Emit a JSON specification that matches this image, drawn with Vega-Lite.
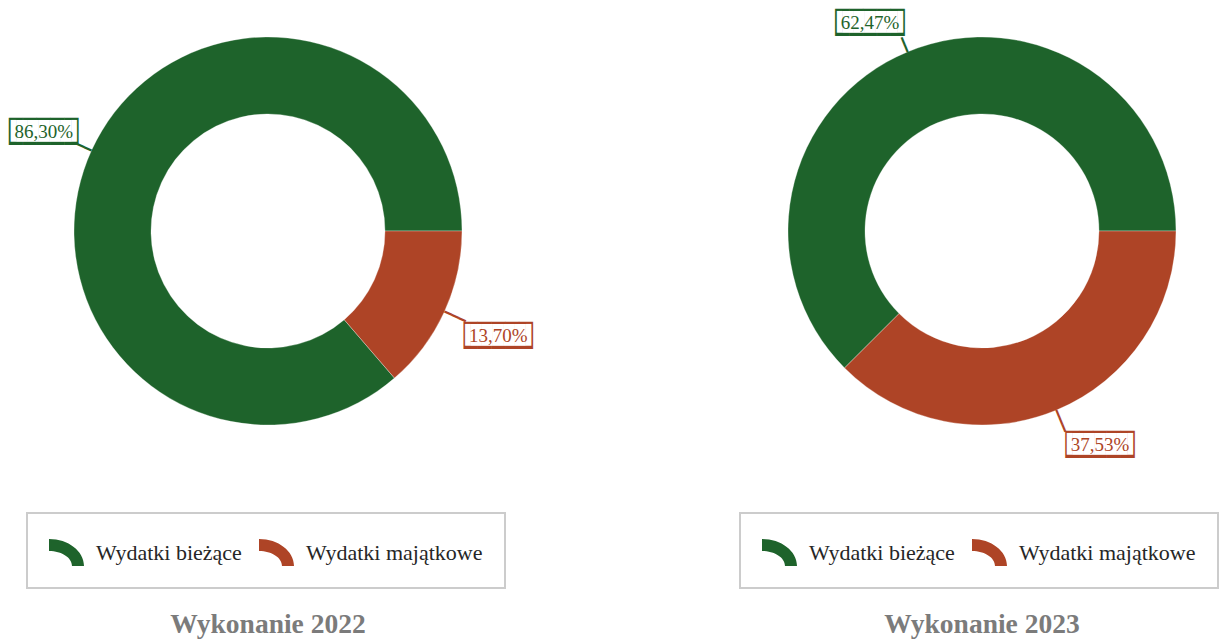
{
  "$schema": "https://vega.github.io/schema/vega-lite/v6.json",
  "padding": 0,
  "background": "white",
  "bounds": "flush",
  "spacing": 208,
  "datasets": {
    "w2022": [
      {"kategoria": "Wydatki bieżące", "udzial": 86.30, "etykieta": "86,30%"},
      {"kategoria": "Wydatki majątkowe", "udzial": 13.70, "etykieta": "13,70%"}
    ],
    "w2023": [
      {"kategoria": "Wydatki bieżące", "udzial": 62.47, "etykieta": "62,47%"},
      {"kategoria": "Wydatki majątkowe", "udzial": 37.53, "etykieta": "37,53%"}
    ]
  },
  "config": {
    "view": {"stroke": null},
    "legend": {
      "title": null,
      "direction": "horizontal",
      "symbolType": "M-1,-0.771A2,1.543 0 0 1 1,0.771L0.314,0.771A1.314,0.857 0 0 0 -1,-0.086Z",
      "symbolSize": 1225,
      "symbolStrokeWidth": 0,
      "symbolOpacity": 1,
      "labelFont": "Liberation Serif",
      "labelFontSize": 22,
      "labelColor": "#262626",
      "labelOffset": 12,
      "labelLimit": 400,
      "columnPadding": 17,
      "padding": 22,
      "strokeColor": "#cccccc",
      "strokeWidth": 2
    },
    "title": {
      "font": "Liberation Serif",
      "fontSize": 27.5,
      "fontWeight": "bold",
      "color": "#7b7b7b",
      "orient": "bottom",
      "anchor": "middle",
      "offset": 22
    }
  },
  "resolve": {
    "scale": {"color": "independent", "theta": "independent"},
    "legend": {"color": "independent"}
  },
  "hconcat": [
    {
      "width": 536,
      "height": 462,
      "data": {"name": "w2022"},
      "title": {"text": "Wykonanie 2022"},
      "encoding": {
        "theta": {"field": "udzial", "type": "quantitative", "stack": true, "scale": {"range": [1.5708, 7.854]}},
        "order": {"field": "kategoria", "sort": "descending"}
      },
      "layer": [
        {
          "mark": {"type": "arc", "radius": 194, "radius2": 117, "stroke": "#ffffff", "strokeWidth": 0.6, "strokeOpacity": 0.5},
          "encoding": {
            "color": {
              "field": "kategoria", "type": "nominal",
              "scale": {"domain": ["Wydatki bieżące", "Wydatki majątkowe"], "range": ["#1e632b", "#ae4426"]},
              "legend": {"orient": "none", "legendX": 27, "legendY": 513}
            }
          }
        },
        {
          "mark": {"type": "text", "font": "DejaVu Sans Mono", "fontSize": 13, "radius": 194, "align": "left", "baseline": "middle"},
          "encoding": {
            "text": {"condition": {"test": "datum.kategoria === 'Wydatki bieżące'", "value": "━━"}, "value": "━━━"},
            "angle": {"condition": {"test": "datum.kategoria === 'Wydatki bieżące'", "value": 204.66}, "value": 24.66},
            "color": {"condition": {"test": "datum.kategoria === 'Wydatki bieżące'", "value": "#1e632b"}, "value": "#ae4426"}
          }
        },
        {
          "mark": {"type": "text", "text": "█████", "font": "DejaVu Sans Mono", "fontSize": 23, "radius": 249, "thetaOffset": -0.01, "dx": 3, "dy": 3, "align": "center", "baseline": "middle"},
          "encoding": {"color": {"condition": {"test": "datum.kategoria === 'Wydatki bieżące'", "value": "#1e632b"}, "value": "#ae4426"}}
        },
        {
          "mark": {"type": "text", "text": "▐█████▌", "font": "DejaVu Sans Mono", "fontSize": 18.3, "radius": 249, "thetaOffset": -0.01, "dx": 3, "dy": 3, "align": "center", "baseline": "middle", "color": "#ffffff"}
        },
        {
          "mark": {"type": "text", "font": "Liberation Serif", "fontSize": 19, "radius": 249, "thetaOffset": -0.01, "dx": 3, "dy": 3, "align": "center", "baseline": "middle"},
          "encoding": {
            "text": {"field": "etykieta", "type": "nominal"},
            "color": {"condition": {"test": "datum.kategoria === 'Wydatki bieżące'", "value": "#1e632b"}, "value": "#ae4426"}
          }
        }
      ]
    },
    {
      "width": 476,
      "height": 462,
      "data": {"name": "w2023"},
      "title": {"text": "Wykonanie 2023"},
      "encoding": {
        "theta": {"field": "udzial", "type": "quantitative", "stack": true, "scale": {"range": [1.5708, 7.854]}},
        "order": {"field": "kategoria", "sort": "descending"}
      },
      "layer": [
        {
          "mark": {"type": "arc", "radius": 194, "radius2": 117, "stroke": "#ffffff", "strokeWidth": 0.6, "strokeOpacity": 0.5},
          "encoding": {
            "color": {
              "field": "kategoria", "type": "nominal",
              "scale": {"domain": ["Wydatki bieżące", "Wydatki majątkowe"], "range": ["#1e632b", "#ae4426"]},
              "legend": {"orient": "none", "legendX": -4, "legendY": 513}
            }
          }
        },
        {
          "mark": {"type": "text", "font": "DejaVu Sans Mono", "fontSize": 13, "radius": 194, "align": "left", "baseline": "middle"},
          "encoding": {
            "text": {"condition": {"test": "datum.kategoria === 'Wydatki bieżące'", "value": "━━"}, "value": "━━━"},
            "angle": {"condition": {"test": "datum.kategoria === 'Wydatki bieżące'", "value": 247.55}, "value": 67.55},
            "color": {"condition": {"test": "datum.kategoria === 'Wydatki bieżące'", "value": "#1e632b"}, "value": "#ae4426"}
          }
        },
        {
          "mark": {"type": "text", "text": "█████", "font": "DejaVu Sans Mono", "fontSize": 23, "radius": 240, "thetaOffset": -0.108, "dx": 3, "dy": 3, "align": "center", "baseline": "middle"},
          "encoding": {"color": {"condition": {"test": "datum.kategoria === 'Wydatki bieżące'", "value": "#1e632b"}, "value": "#ae4426"}}
        },
        {
          "mark": {"type": "text", "text": "▐█████▌", "font": "DejaVu Sans Mono", "fontSize": 18.3, "radius": 240, "thetaOffset": -0.108, "dx": 3, "dy": 3, "align": "center", "baseline": "middle", "color": "#ffffff"}
        },
        {
          "mark": {"type": "text", "font": "Liberation Serif", "fontSize": 19, "radius": 240, "thetaOffset": -0.108, "dx": 3, "dy": 3, "align": "center", "baseline": "middle"},
          "encoding": {
            "text": {"field": "etykieta", "type": "nominal"},
            "color": {"condition": {"test": "datum.kategoria === 'Wydatki bieżące'", "value": "#1e632b"}, "value": "#ae4426"}
          }
        }
      ]
    }
  ]
}
